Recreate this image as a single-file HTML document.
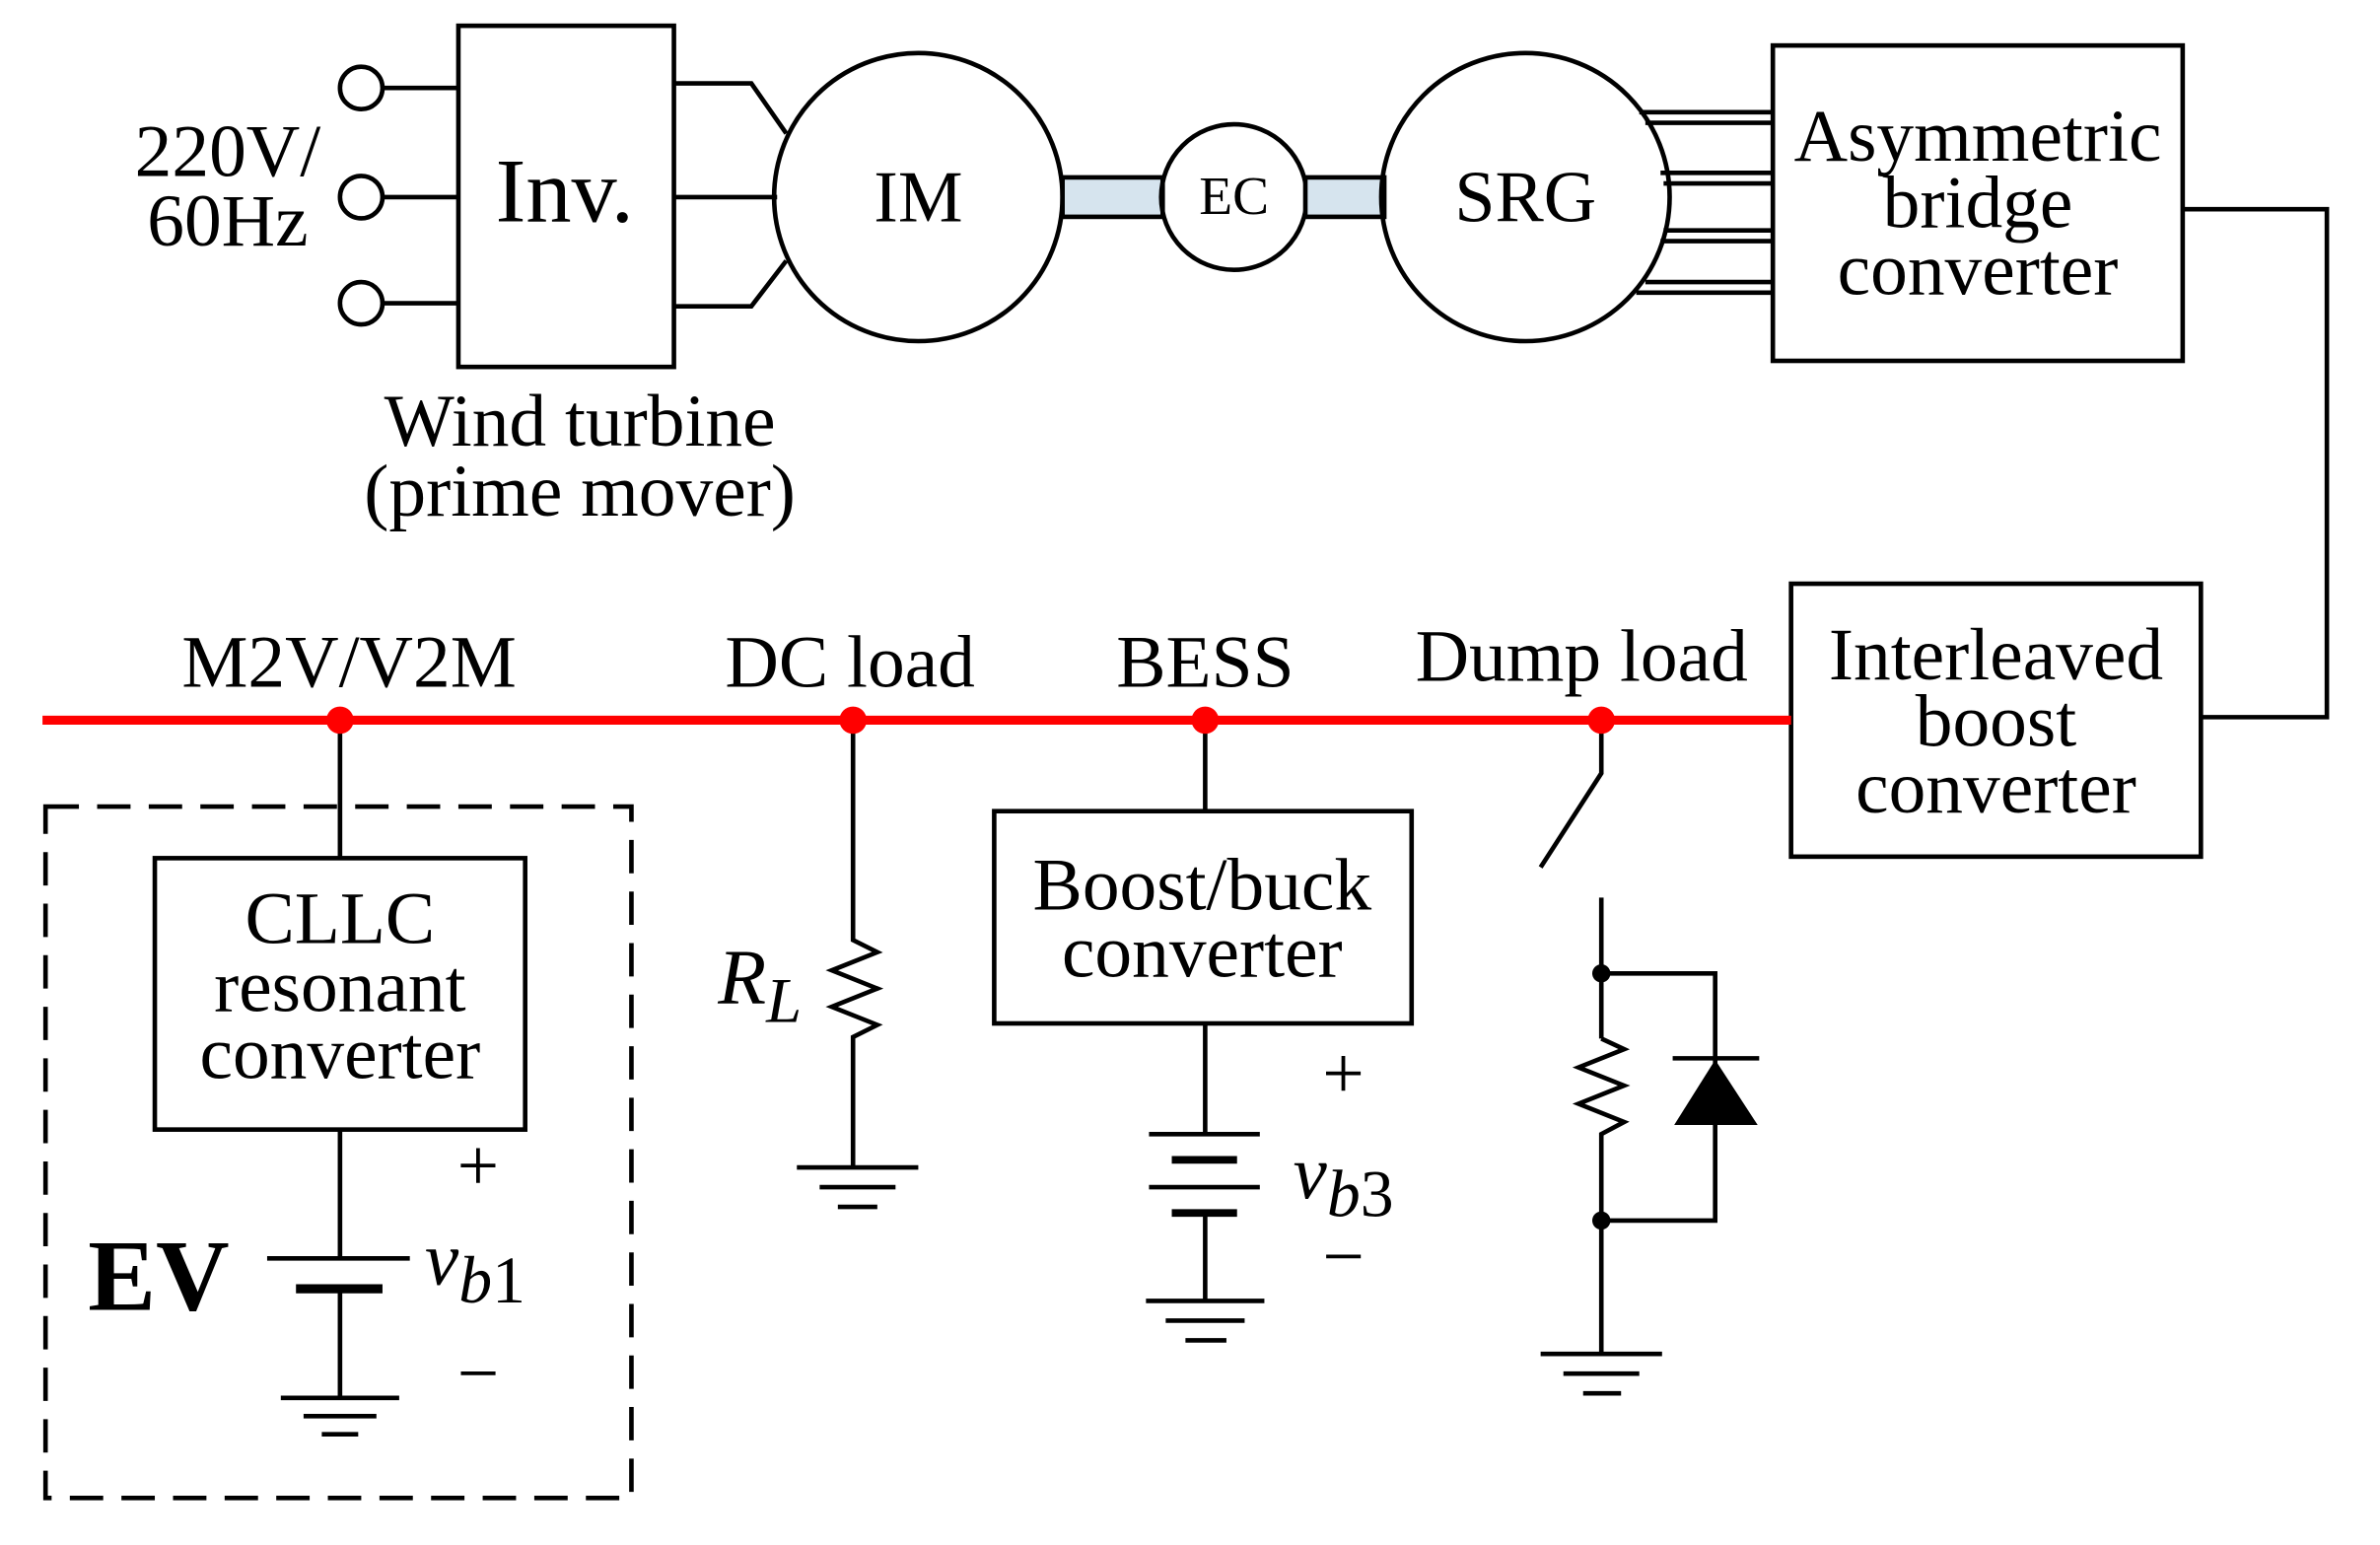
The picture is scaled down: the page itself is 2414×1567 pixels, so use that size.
<!DOCTYPE html>
<html><head><meta charset="utf-8"><style>
html,body{margin:0;padding:0;background:#fff;}
svg{display:block;}
text{font-family:"Liberation Serif",serif;fill:#000;}
</style></head><body>
<svg width="2414" height="1567" viewBox="0 0 1568 1019" preserveAspectRatio="none" xmlns="http://www.w3.org/2000/svg">
<g fill="none" stroke="#000" stroke-width="3">
<circle cx="238" cy="58" r="14"/><circle cx="238" cy="130" r="14"/><circle cx="238" cy="200" r="14"/>
<line x1="252" y1="58" x2="302" y2="58"/><line x1="252" y1="130" x2="302" y2="130"/><line x1="252" y1="200" x2="302" y2="200"/>
<rect x="302" y="17" width="142" height="225"/>
<polyline points="444,55 495,55 518,88"/>
<line x1="444" y1="130" x2="512" y2="130"/>
<polyline points="444,202 495,202 518,172"/>
<circle cx="605" cy="130" r="95"/>
<rect x="700" y="117" width="66" height="26" fill="#d6e4ee"/>
<circle cx="813" cy="130" r="48"/>
<rect x="860" y="117" width="52" height="26" fill="#d6e4ee"/>
<circle cx="1005" cy="130" r="95"/>
<line x1="1080" y1="74" x2="1168" y2="74"/><line x1="1084" y1="81" x2="1168" y2="81"/>
<line x1="1094" y1="114" x2="1168" y2="114"/><line x1="1096" y1="121" x2="1168" y2="121"/>
<line x1="1096" y1="152" x2="1168" y2="152"/><line x1="1094" y1="159" x2="1168" y2="159"/>
<line x1="1084" y1="186" x2="1168" y2="186"/><line x1="1078" y1="193" x2="1168" y2="193"/>
<rect x="1168" y="30" width="270" height="208"/>
<polyline points="1438,138 1533,138 1533,473 1450,473"/>
<rect x="1180" y="385" width="270" height="180"/>
<rect x="30" y="532" width="386" height="456" stroke-dasharray="22,12"/>
<line x1="224" y1="475" x2="224" y2="566"/>
<rect x="102" y="566" width="244" height="179"/>
<line x1="224" y1="745" x2="224" y2="830"/>
<line x1="176" y1="830" x2="270" y2="830"/>
<line x1="195" y1="850" x2="252" y2="850" stroke-width="6"/>
<line x1="224" y1="850" x2="224" y2="922"/>
<line x1="185" y1="922" x2="263" y2="922"/><line x1="200" y1="934" x2="248" y2="934"/><line x1="212" y1="946" x2="236" y2="946"/>
<polyline points="562,475 562,620 578,628 548,640 578,652 548,664 578,676 562,684 562,770"/>
<line x1="525" y1="770" x2="605" y2="770"/><line x1="540" y1="783" x2="590" y2="783"/><line x1="552" y1="796" x2="578" y2="796"/>
<line x1="794" y1="475" x2="794" y2="535"/>
<rect x="655" y="535" width="275" height="140"/>
<line x1="794" y1="675" x2="794" y2="748"/>
<line x1="757" y1="748" x2="830" y2="748"/>
<line x1="772" y1="765" x2="815" y2="765" stroke-width="5"/>
<line x1="757" y1="783" x2="830" y2="783"/>
<line x1="772" y1="800" x2="815" y2="800" stroke-width="5"/>
<line x1="794" y1="800" x2="794" y2="858"/>
<line x1="755" y1="858" x2="833" y2="858"/><line x1="768" y1="871" x2="820" y2="871"/><line x1="781" y1="884" x2="808" y2="884"/>
<polyline points="1055,475 1055,510 1015,572"/>
<line x1="1055" y1="592" x2="1055" y2="685"/>
<polyline points="1055,685 1070,692 1040,704 1070,716 1040,728 1070,740 1055,748 1055,893"/>
<polyline points="1055,642 1130,642 1130,805 1055,805"/>
<line x1="1102" y1="698" x2="1159" y2="698"/>
<line x1="1015" y1="893" x2="1095" y2="893"/><line x1="1030" y1="906" x2="1080" y2="906"/><line x1="1043" y1="919" x2="1068" y2="919"/>
</g>
<polygon points="1130,699 1103,742 1158,742" fill="#000"/>
<circle cx="1055" cy="642" r="6" fill="#000"/><circle cx="1055" cy="805" r="6" fill="#000"/>
<line x1="28" y1="475" x2="1180" y2="475" stroke="#f00" stroke-width="6"/>
<g fill="#f00"><circle cx="224" cy="475" r="9"/><circle cx="562" cy="475" r="9"/><circle cx="794" cy="475" r="9"/><circle cx="1055" cy="475" r="9"/></g>
<g font-size="49" text-anchor="middle">
<text x="150" y="116">220V/</text><text x="150" y="162">60Hz</text>
<text x="372" y="146" font-size="60">Inv.</text>
<text x="605" y="146" font-size="48">IM</text>
<text x="813" y="141" font-size="36">EC</text>
<text x="1005" y="146" font-size="48">SRG</text>
<text x="1303" y="106">Asymmetric</text><text x="1303" y="150">bridge</text><text x="1303" y="194">converter</text>
<text x="382" y="294">Wind turbine</text><text x="382" y="340">(prime mover)</text>
<text x="230" y="453">M2V/V2M</text><text x="560" y="453">DC load</text><text x="794" y="453">BESS</text><text x="1042" y="449">Dump load</text>
<text x="1315" y="448">Interleaved</text><text x="1315" y="492">boost</text><text x="1315" y="536">converter</text>
<text x="224" y="622">CLLC</text><text x="224" y="667">resonant</text><text x="224" y="711">converter</text>
<text x="792" y="600">Boost/buck</text><text x="792" y="644">converter</text>
<text x="315" y="785">+</text><text x="315" y="922">−</text>
<text x="885" y="724">+</text><text x="885" y="845">−</text>
</g>
<text x="58" y="864" font-size="67" font-weight="bold">EV</text>
<text x="280" y="847" font-size="50" font-style="italic">v<tspan font-size="44" dy="12">b</tspan><tspan font-style="normal" font-size="44">1</tspan></text>
<text x="852" y="790" font-size="50" font-style="italic">v<tspan font-size="44" dy="12">b</tspan><tspan font-style="normal" font-size="44">3</tspan></text>
<text x="473" y="662" font-size="52" font-style="italic">R<tspan font-size="42" dy="12">L</tspan></text>
</svg>
</body></html>
